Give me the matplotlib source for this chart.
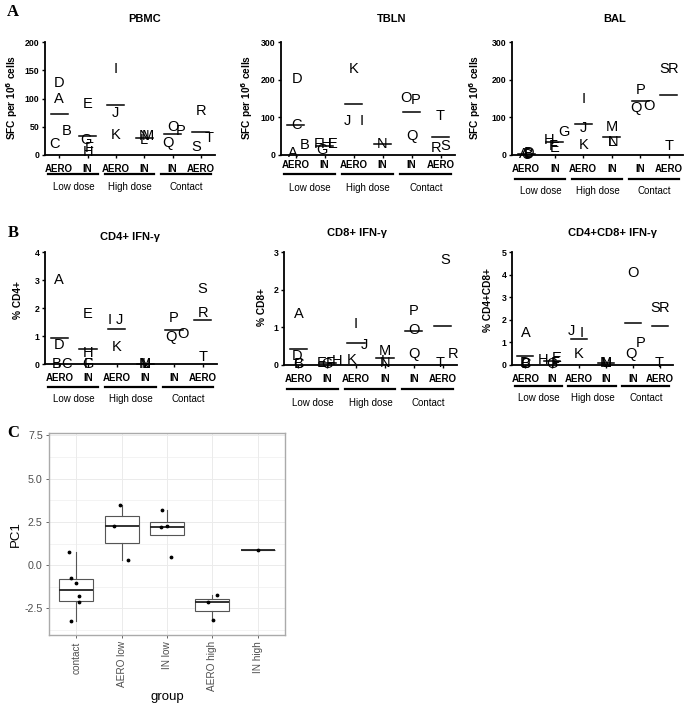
import matplotlib
matplotlib.use('Agg')
import matplotlib.pyplot as plt
import matplotlib.transforms as mtransforms
import numpy as np

plt.rcParams['font.family'] = ['Liberation Sans', 'DejaVu Sans']

# letters = animals, groups: A-D low AERO, E-H low IN, I-K high AERO,
# L-N high IN, O-Q contact IN, R-T contact AERO
letters = list('ABCDEFGHIJKLMNOPQRST')
letter_group = [0, 0, 0, 0, 1, 1, 1, 1, 2, 2, 2, 3, 3, 3, 4, 4, 4, 5, 5, 5]
tick_labels = ['AERO', 'IN', 'AERO', 'IN', 'IN', 'AERO']
group_names = ['Low dose', 'High dose', 'Contact']
nan = np.nan

# panel A, SFC per 10^6 cells
pbmc = [99, 42, 20, 127, 91, 12, 27, 6, 152, 75, 36, 26, 33, 33, 50, 42, 21, 78, 15, 30]
tbln = [5, 26, 80, 203, 30, 30, 12, 28, 89, 89, 229, nan, nan, 29, 151, 145, 50, 19, 23, 104]
bal = [2, 3, 1, 4, 19, 23, 60, 39, 149, 72, 27, 34, 74, 34, 129, 173, 125, 228, 228, 23]
# panel B, % IFN-g positive
cd4 = [3.0, 0, 0, 0.68, 1.78, 0, 0, 0.4, 1.57, 1.57, 0.6, 0, 0, 0, 1.07, 1.66, 0.95, 1.83, 2.69, 0.24]
cd8 = [1.35, 0.03, 0.03, 0.24, 0.06, 0.06, 0.03, 0.1, 1.1, 0.53, 0.13, 0.1, 0.38, 0.04, 0.93, 1.44, 0.3, 0.3, 2.8, 0.04]
cd4cd8 = [1.43, 0.05, 0.05, 0.1, 0.3, 0.07, 0.05, 0.22, 1.4, 1.5, 0.49, 0.1, 0.1, 0.1, 4.07, 0.96, 0.49, 2.54, 2.54, 0.07]

# panel C, PC1 per group
pc_groups = ['contact', 'AERO low', 'IN low', 'AERO high', 'IN high']
pc_contact = [0.75, -0.72, -1.05, -1.78, -2.15, -3.2]
pc_aero_low = [3.45, 2.25, 0.28]
pc_in_low = [3.2, 2.2, 2.26, 0.48]
pc_aero_high = [-1.72, -2.15, -3.15]
pc_in_high = [0.85]

# horizontal scatter of the letters (layout only)
jit_pbmc = [0, 0.26, -0.18, 0, 0, 0.05, -0.06, 0.02, 0, 0, 0, 0, 0.12, 0, 0, 0.3, -0.15, 0, -0.15, 0.3]
jit_tbln = [-0.1, 0.3, 0.05, 0.05, 0.28, -0.22, -0.08, 0.05, 0.28, -0.2, 0, 0, 0, 0, -0.2, 0.15, 0, -0.15, 0.15, 0]
jit_bal = [-0.1, 0.1, 0, 0.1, 0, -0.05, 0.33, -0.2, 0, 0, 0, 0, 0, 0.05, 0.3, 0, -0.15, 0.15, -0.15, 0]
jit_cd4 = [0, -0.1, 0.25, 0, 0, 0, 0, 0, -0.25, 0.1, 0, 0, 0, 0, 0.3, 0, -0.1, 0, 0, 0]
jit_cd8 = [0, 0, 0, -0.05, -0.18, 0.1, 0, 0.35, 0, 0.28, -0.15, 0, 0, 0, 0, 0, 0, 0.38, 0.1, -0.1]
jit_cd4cd8 = [0, 0, 0, 0, 0.15, 0.1, 0, -0.35, 0.08, -0.3, 0, 0, 0, 0, 0, 0.3, -0.08, 0.15, -0.15, 0]
jit_pc = [[-0.15, -0.11, 0, 0.06, 0.06, -0.11], [-0.04, -0.16, 0.13], [-0.11, -0.13, 0, 0.09], [0.11, -0.09, 0.02], [0]]

W, H = 685, 705
fig = plt.figure(figsize=(W / 100, H / 100), dpi=100)


def rect(l, t, r, b):
    return [l / W, 1 - b / H, (r - l) / W, (b - t) / H]


def gp_panel(box, vals, jit, yticks, title, title_xy, ylabel, ylabel_xy, lab_pad, under_y, grp_y):
    ax = fig.add_axes(rect(*box))
    vals = np.array(vals, dtype=float)
    grp = np.array(letter_group)
    for i in range(len(letters)):
        if np.isnan(vals[i]):
            continue
        ax.text(grp[i] + jit[i], vals[i], letters[i], ha='center', va='center',
                fontsize=10.5, clip_on=False)
    for g in range(6):
        m = np.nanmean(vals[grp == g])
        ax.plot([g - 0.3, g + 0.3], [m, m], color='black', lw=1.1, clip_on=False)
    ax.set_xlim(-0.5, 5.5)
    ax.set_ylim(0, yticks[-1])
    ax.set_yticks(yticks)
    ax.set_xticks(range(6))
    ax.set_xticklabels(tick_labels, fontsize=7, fontweight='bold')
    for t in ax.get_yticklabels():
        t.set_fontsize(6.3)
        t.set_fontweight('bold')
    ax.tick_params(axis='x', length=2.5, width=1, pad=lab_pad)
    ax.tick_params(axis='y', length=2.5, width=1, pad=1.5)
    for s in ['top', 'right']:
        ax.spines[s].set_visible(False)
    for s in ['left', 'bottom']:
        ax.spines[s].set_linewidth(1.3)
    ax.patch.set_alpha(0)
    tr = mtransforms.blended_transform_factory(ax.transData, fig.transFigure)
    for k, name in enumerate(group_names):
        a, b = 2 * k, 2 * k + 1
        ax.plot([a - 0.4, b + 0.36], [1 - under_y / H] * 2, color='black', lw=1.6,
                transform=tr, clip_on=False)
        ax.text((a + b) / 2, 1 - grp_y / H, name, transform=tr, ha='center', va='center',
                fontsize=7)
    fig.text(title_xy[0] / W, 1 - title_xy[1] / H, title, ha='center', va='center',
             fontsize=8, fontweight='bold')
    fig.text(ylabel_xy[0] / W, 1 - ylabel_xy[1] / H, ylabel, ha='center', va='center',
             rotation=90, fontsize=7.3, fontweight='bold')
    return ax


sfc = r'SFC per 10$^{\mathbf{6}}$ cells'
gp_panel((45, 42, 215, 155), pbmc, jit_pbmc, [0, 50, 100, 150, 200], 'PBMC', (145, 19),
         sfc, (12, 97), 4, 174, 187)
gp_panel((281, 42, 455, 155), tbln, jit_tbln, [0, 100, 200, 300], 'TBLN', (392, 19),
         sfc, (247, 97), 1, 174, 188)
gp_panel((512, 42, 683, 155), bal, jit_bal, [0, 100, 200, 300], 'BAL', (615, 19),
         sfc, (475, 97), 4, 179, 191)
gp_panel((45, 252, 217, 364), cd4, jit_cd4, [0, 1, 2, 3, 4], 'CD4+ IFN-γ', (130, 237),
         '% CD4+', (18, 300), 4, 387, 399)
gp_panel((284, 252, 457, 365), cd8, jit_cd8, [0, 1, 2, 3], 'CD8+ IFN-γ', (357, 233),
         '% CD8+', (262, 307), 4, 389, 403)
gp_panel((512, 252, 673, 365), cd4cd8, jit_cd4cd8, [0, 1, 2, 3, 4, 5], 'CD4+CD8+ IFN-γ', (612, 233),
         '% CD4+CD8+', (488, 300), 4, 386, 398)

# panel C, ggplot style boxplot
axc = fig.add_axes(rect(49, 433, 285, 635))
pc_data = [pc_contact, pc_aero_low, pc_in_low, pc_aero_high, pc_in_high]
pos = np.arange(1, 6)
for y in np.arange(-3.75, 7.6, 1.25):
    major = abs((y / 2.5) - round(y / 2.5)) < 1e-6
    axc.axhline(y, color='#ebebeb', lw=0.7 if major else 0.4, zorder=0)
for x in pos:
    axc.axvline(x, color='#ebebeb', lw=0.7, zorder=0)
axc.boxplot(pc_data, positions=pos, widths=0.75, showfliers=False, patch_artist=True,
            boxprops=dict(facecolor='white', edgecolor='#555555', lw=0.8),
            whiskerprops=dict(color='#555555', lw=0.8),
            capprops=dict(lw=0),
            medianprops=dict(color='#222222', lw=1.3))
for i, d in enumerate(pc_data):
    axc.scatter(pos[i] + np.array(jit_pc[i]), d, s=3, color='black', zorder=5)
axc.set_xlim(0.4, 5.6)
axc.set_ylim(-4.03, 7.63)
axc.set_yticks([-2.5, 0, 2.5, 5, 7.5])
axc.set_yticklabels(['-2.5', '0.0', '2.5', '5.0', '7.5'], fontsize=7.7, color='#4d4d4d')
axc.set_xticks(pos)
axc.set_xticklabels(pc_groups, rotation=90, fontsize=7.2, color='#4d4d4d')
axc.tick_params(length=2.5, color='#4d4d4d', width=0.6, pad=2)
for s in axc.spines.values():
    s.set_color('#aaaaaa')
    s.set_linewidth(1)
axc.set_xlabel('group', fontsize=9.5, labelpad=0)
axc.set_ylabel('PC1', fontsize=9.5, labelpad=2)

# panel letters
for lab, x, y in [('A', 13, 12), ('B', 13, 233), ('C', 13, 433)]:
    fig.text(x / W, 1 - y / H, lab, ha='center', va='center', fontsize=12,
             fontweight='bold', family='Liberation Serif')

fig.savefig('out.png', dpi=100)
